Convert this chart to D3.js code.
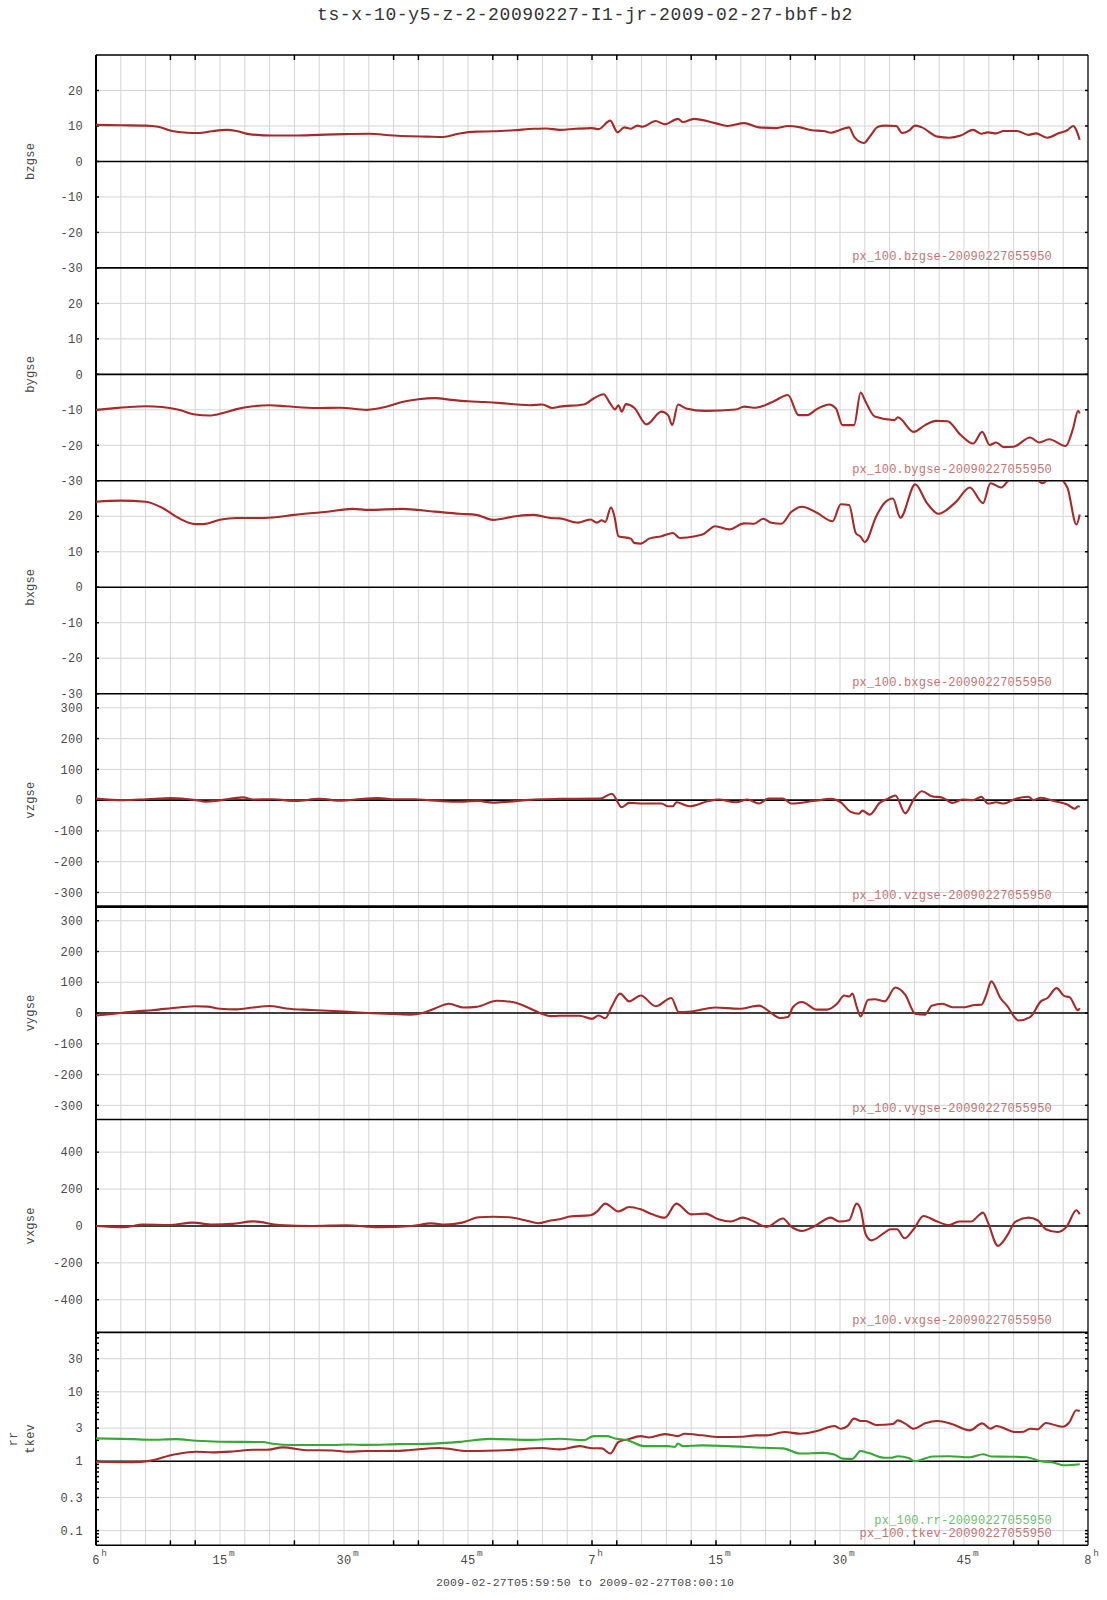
<!DOCTYPE html>
<html><head><meta charset="utf-8">
<script src="https://cdn.jsdelivr.net/npm/d3@7"></script>
<style>
body{margin:0;background:#fff}
svg{display:block}
text{font-family:"Liberation Mono","DejaVu Sans Mono",monospace;fill:#4a4a4a}
</style>
</head><body>
<svg id="c" width="1107" height="1600"></svg>
<script>
// ---------- text ----------
const titleText = "ts-x-10-y5-z-2-20090227-I1-jr-2009-02-27-bbf-b2";
const rangeText = "2009-02-27T05:59:50 to 2009-02-27T08:00:10";
const legendSuffix = "-20090227055950";

// ---------- x axis (minutes after 06:00) ----------
const xTickMinutes = [9, 12, 24, 36, 39, 48, 51, 60, 63, 72, 75, 84, 87, 99, 111, 114];
const xLabelMinutes = [0, 15, 30, 45, 60, 75, 90, 105, 120];
const xLabelNums = ["6", "15", "30", "45", "7", "15", "30", "45", "8"];
const xLabelSups = ["h", "m", "m", "m", "h", "m", "m", "m", "h"];

// ---------- y ticks ----------
const bTicks = [20, 10, 0, -10, -20, -30];
const vTicks = [300, 200, 100, 0, -100, -200, -300];
const vxTicks = [400, 200, 0, -200, -400];
const logTicks = [30, 10, 3, 1, 0.3, 0.1];
const logTickLabels = ["30", "10", "3", "1", "0.3", "0.1"];

// ---------- data ----------
const bzT = [0,3,6,7.5,9.2,11,12.5,14,15.8,17,18.5,21.4,24,27,30,33,36,38,40,42,44,46,48,50.5,53,54.5,56.1,58,60,60.8,62.2,63.1,63.9,64.7,65.5,66.1,67.7,68.8,70.4,71,72.3,74.9,76.4,78.4,80.2,82.3,83.7,85.2,86.6,88,88.9,89.9,91.1,91.7,92.9,93.6,94.6,95.4,96.8,97.5,98.3,99.1,99.9,101.8,103.2,104.6,106.1,107.1,107.9,108.9,109.8,111.4,112.8,113.7,115.1,116.5,117.5,118.2,119];
const bzV = [10.3,10.2,10.1,9.8,8.6,8.1,8.0,8.5,8.9,8.6,7.7,7.3,7.3,7.5,7.7,7.8,7.3,7.1,7.0,6.9,7.9,8.4,8.5,8.8,9.2,9.3,8.9,9.2,9.4,9.1,11.5,8.2,9.6,9.2,10.1,9.8,11.4,10.5,12.0,11.1,12.0,10.8,10.0,10.8,9.6,9.4,10.0,9.6,8.8,8.6,8.1,8.8,9.6,7.0,5.2,7.0,9.8,10.1,10.0,8.0,8.6,10.1,9.6,7.0,6.7,7.3,8.9,7.8,8.2,7.9,8.6,8.6,7.5,7.9,6.7,8.0,8.8,10.0,6.1];

const byT = [0,2,4,6,8,10,12,13.7,15.5,17,19,21,23,26.7,29.5,32.8,35,37,39,41,43,45,47,49,51,52.5,54,55.2,56.1,59,60.2,61.4,62.2,62.8,63.2,63.6,64.1,65.1,66.6,68.4,69.2,69.7,70.4,71.4,73.7,77.4,78.4,79.8,81.9,83.7,85,86,87.2,88.7,89.5,90.3,91.7,92.5,93.1,94.2,96.6,97,98.9,100.3,101.6,103,104.6,106.1,107.2,108.1,108.9,109.8,111,113,114.1,115.3,117.3,118.2,118.8,119];
const byV = [-10,-9.6,-9.2,-9.0,-9.2,-10.0,-11.3,-11.6,-10.8,-9.8,-9.0,-8.7,-9.0,-9.5,-9.4,-10.0,-9.2,-7.8,-7.0,-6.7,-7.2,-7.6,-7.8,-8.1,-8.5,-8.7,-8.5,-9.5,-9.1,-8.5,-6.8,-5.6,-8.2,-9.9,-8.7,-10.5,-8.4,-9.4,-14.1,-10.5,-11.5,-14.3,-8.5,-9.6,-10.3,-9.9,-9.1,-9.4,-7.7,-5.8,-11.5,-11.5,-9.8,-8.5,-9.6,-14.3,-14.3,-5.1,-7.7,-11.9,-12.9,-12.1,-16.2,-14.3,-13.1,-13.2,-17.1,-19.5,-16.2,-19.9,-19.2,-20.5,-20.4,-17.8,-19.2,-18.3,-20.2,-15.2,-10.3,-11.0];

const bxT = [0,3,6,8,10,12,13,15,17,20,22,24,28,31,33,37,41,44,46,48,51,53,55,56.1,58.3,59.8,60.6,61.2,61.6,62.3,62.7,63.2,64.7,65.1,65.9,66.9,68.4,69.8,70.6,72.5,73.5,74.9,76.6,78.4,79.6,80.7,81.7,82.9,84.1,85.4,87.2,89.1,90.1,91.1,91.9,92.5,93,94.4,95.4,96.4,97.3,99.1,100.5,101.9,104,105.7,107.3,108.2,109.5,110.6,112,113.5,114.5,115.3,116.5,117.5,118.6,119];
const bxV = [24.1,24.4,24.1,22.4,19.5,17.8,17.8,19.0,19.5,19.5,19.8,20.4,21.3,22.1,21.8,22.1,21.3,20.7,20.4,19.0,20.1,20.4,19.5,19.4,18.2,19.1,18.2,18.9,18.4,22.5,20.1,14.4,13.7,12.5,12.3,13.7,14.4,15.3,13.9,14.4,15.0,17.2,16.3,18.0,17.9,19.3,18.2,17.9,21.2,22.7,21.0,18.6,23.4,23.2,15.3,14.2,12.7,20.1,23.8,25.0,19.6,29.0,23.8,20.7,24.0,28.1,23.7,29.3,28.1,30.5,31,31,29.3,30.5,30.5,28.1,17.7,20.5];

const vzT = [0,3.3,6.1,9.1,12.1,13.3,14.9,17.8,19,21.4,24.2,27,29.8,31.4,34.2,35.8,38.6,40.2,43.5,46.3,48,50,52,54,56.1,61,62.4,63.6,64.5,66.3,68.4,69.2,69.8,70.2,71.8,74.1,75.3,77.4,78.8,80.2,81.3,83.1,84.1,86.8,88.9,90.1,91.3,92.3,92.7,93.6,94.8,95.8,96.7,97.9,98.9,99.9,101.1,102.4,103.6,104.8,106.1,107.1,107.9,108.9,109.8,111.2,112.8,113.4,114.3,115.9,117.5,118.4,118.8,119];
const vzV = [5,0,3,7,0,-5,-1,9,2,3,-3,4,-2,2,7,3,3,0,-5,-3,-8,-5,0,3,4,5,21,-23,-9,-11,-11,-20,-20,-7,-20,-3,2,-7,2,-11,5,5,-11,-3,4,-7,-38,-44,-34,-47,-9,5,15,-43,2,29,13,8,-9,2,0,11,-11,-7,-11,4,11,0,8,-3,-14,-28,-20,-22];

const vyT = [0,2,4,7,10,12,13.5,15,17,19,21,23,26,30,33,36,38,39.5,41,42.7,44.5,46,48.5,50.5,52.5,54,55,56.1,58.5,60,60.8,61.6,62.4,63.4,64.5,65.9,67.7,69.6,70.5,72,74.9,77.8,80.2,81.7,82.7,83.7,84.3,85.4,87.2,88.4,89.7,90.5,91.1,91.5,92,92.5,93.4,94.2,95.4,96.7,97.9,99.1,100.3,101.1,102.4,103.6,105.1,106.3,107.1,107.7,108.3,109.4,110.2,111.6,113,114.3,115.1,116.2,117.1,117.8,118.8,119];
const vyV = [-8,-3,3,10,18,22,21,14,12,18,23,15,10,5,0,-3,-5,0,15,30,18,20,40,35,15,-3,-10,-9,-9,-19,-8,-17,22,63,38,57,22,49,3,5,18,14,24,0,-16,-13,19,36,11,11,32,57,54,63,22,-11,43,45,38,83,59,-2,-5,24,30,19,19,26,27,59,103,49,24,-24,-13,38,49,81,56,51,9,16];

const vxT = [0,3.3,5.7,8.9,11.7,14.1,16.5,19,22.2,26.2,30.2,34.2,38.2,40.6,42.2,44.3,46.3,48,50,52,53.5,55,56.1,57.3,59.8,60.6,61.6,63.2,64.5,65.9,67.3,68.8,70.2,72,73.7,75.3,76.8,78.2,79.6,81.1,83.1,84.1,85.4,86.8,88.9,89.9,91.1,92,92.5,93.1,93.8,95.4,96.1,96.9,97.8,98.9,100.1,101.6,103.2,104.4,105.9,106.7,107.3,107.9,109.1,110.2,111.2,112.8,113.9,114.9,116.3,117.4,118.6,119];
const vxV = [0,-7,7,5,18,7,11,25,5,0,4,-7,0,14,7,18,47,50,47,30,15,30,36,51,58,78,121,78,103,90,63,45,121,63,67,36,24,45,24,-5,40,-4,-27,-4,45,24,31,121,90,-45,-78,-36,-18,-18,-67,-18,54,27,5,24,24,54,72,18,-108,-54,22,45,31,-18,-33,-5,85,63];

const tkevT = [0,4.4,6.5,9.3,12.1,14.1,16.5,19,20.6,22.6,25.4,28.6,30.2,32.7,36.7,38,41.5,45,50,54,56.1,58.5,59.1,60,61.2,62.2,63.2,64.3,65.9,66.9,68.8,70.4,71.2,73.3,75.3,78.2,79.8,81.1,83.3,85.2,87.2,89.3,90.1,90.9,91.7,92.5,93.1,94.4,96.4,97,97.9,98.9,100.3,101.8,103.6,105.7,107.2,108.2,108.9,111.2,112.2,113,113.9,114.9,116.9,117.7,118.6,119];
const tkevV = [0.98,0.97,1.01,1.24,1.37,1.34,1.38,1.46,1.46,1.58,1.44,1.43,1.37,1.40,1.41,1.45,1.55,1.40,1.45,1.55,1.48,1.65,1.61,1.54,1.53,1.29,1.89,2.06,2.30,2.20,2.46,2.30,2.49,2.36,2.23,2.25,2.36,2.36,2.63,2.49,2.72,3.21,2.94,3.21,4.11,3.80,3.80,3.33,3.44,3.88,3.48,2.94,3.51,3.80,3.40,2.78,3.51,2.94,3.21,2.63,2.66,2.94,2.88,3.55,3.14,3.59,5.42,5.31];

const rrT = [0,4.4,6.5,9.7,12.1,14.9,20.2,21.4,23.8,28.6,30.6,32.7,36.7,40,44,47.6,52.6,56.1,59,60.2,61.8,62.8,64.3,66.3,69.2,70,70.4,71,73.3,76.6,80.7,83.1,85.2,88,89.3,90.3,91.5,92.5,93.4,95.4,96.2,97,98.3,99.1,101.2,103.2,105.7,107.3,108.3,110.6,112.6,114.3,115.9,117.1,119];
const rrV = [2.13,2.08,2.04,2.08,1.97,1.91,1.89,1.78,1.71,1.71,1.74,1.72,1.76,1.78,1.9,2.1,2.03,2.11,2.01,2.30,2.30,2.13,2.01,1.65,1.65,1.60,1.80,1.65,1.69,1.65,1.56,1.53,1.29,1.32,1.25,1.09,1.08,1.40,1.32,1.12,1.12,1.18,1.11,1.0,1.17,1.18,1.14,1.26,1.17,1.16,1.14,1.0,0.95,0.875,0.905];

// ---------- styles ----------
const RED = "#a52a2a", GREEN = "#35a835";
const RED_TXT = "#c27474", GREEN_TXT = "#6cc06c";
const GRID = "#d4d4d4";

const panels = [
  {name:["bzgse"], domain:[-30,30], ticks:bTicks, labels:bTicks.map(String), series:[{t:bzT,v:bzV,c:RED,lc:RED_TXT,leg:"px_100.bzgse"}]},
  {name:["bygse"], domain:[-30,30], ticks:bTicks, labels:bTicks.map(String), series:[{t:byT,v:byV,c:RED,lc:RED_TXT,leg:"px_100.bygse"}]},
  {name:["bxgse"], domain:[-30,30], ticks:bTicks, labels:bTicks.map(String), series:[{t:bxT,v:bxV,c:RED,lc:RED_TXT,leg:"px_100.bxgse"}]},
  {name:["vzgse"], domain:[-346,346], ticks:vTicks, labels:vTicks.map(String), series:[{t:vzT,v:vzV,c:RED,lc:RED_TXT,leg:"px_100.vzgse"}]},
  {name:["vygse"], domain:[-346,346], ticks:vTicks, labels:vTicks.map(String), series:[{t:vyT,v:vyV,c:RED,lc:RED_TXT,leg:"px_100.vygse"}]},
  {name:["vxgse"], domain:[-577,577], ticks:vxTicks, labels:vxTicks.map(String), series:[{t:vxT,v:vxV,c:RED,lc:RED_TXT,leg:"px_100.vxgse"}]},
  {name:["rr","tkev"], log:true, domain:[0.0614,71.8], ticks:logTicks, labels:logTickLabels,
    series:[{t:tkevT,v:tkevV,c:RED,lc:RED_TXT,leg:"px_100.tkev"},{t:rrT,v:rrV,c:GREEN,lc:GREEN_TXT,leg:"px_100.rr"}]}
];

// ---------- layout ----------
const L = 96, R = 1088, TOP = 55, PH = 212.9;
const base = Date.UTC(2009,1,27,6,0,0);
const toDate = m => new Date(base + m*60000);
const x = d3.scaleUtc().domain([toDate(0), toDate(120)]).range([L, R]);
const BOTTOM = TOP + PH*panels.length;

const svg = d3.select("#c");
svg.append("rect").attr("width",1107).attr("height",1600).attr("fill","#fff");

const defs = svg.append("defs");
const gridG = svg.append("g");
const lineG = svg.append("g");
const dataG = svg.append("g");
const txtG = svg.append("g");

// vertical grid every 3 minutes
const vgrid = d3.range(3, 120, 3);
gridG.selectAll("line.v").data(vgrid).join("line")
  .attr("x1", d=>x(toDate(d))).attr("x2", d=>x(toDate(d)))
  .attr("y1", TOP).attr("y2", BOTTOM)
  .attr("stroke", GRID).attr("stroke-width", 1);

panels.forEach((p, i) => {
  const top = TOP + PH*i, bot = top + PH;
  const y = p.log ? d3.scaleLog().domain(p.domain).range([bot, top])
                  : d3.scaleLinear().domain(p.domain).range([bot, top]);
  const zero = p.log ? 1 : 0;

  // horizontal grid
  gridG.selectAll(null).data(p.ticks.filter(v => v !== zero && Math.abs(y(v)-bot) > 1)).join("line")
    .attr("x1", L).attr("x2", R).attr("y1", d=>y(d)).attr("y2", d=>y(d))
    .attr("stroke", GRID).attr("stroke-width", 1);

  // zero line
  lineG.append("line").attr("x1", L).attr("x2", R).attr("y1", y(zero)).attr("y2", y(zero))
    .attr("stroke", "#000").attr("stroke-width", 1.6);
  // panel boundary lines
  lineG.append("line").attr("x1", L).attr("x2", R).attr("y1", top).attr("y2", top)
    .attr("stroke", "#000").attr("stroke-width", i === 4 ? 2.6 : 1.6);

  // inner y ticks on left and right
  let minor = p.ticks;
  if (p.log) {
    minor = [];
    [0.01,0.1,1,10].forEach(dec => d3.range(1,10).forEach(k => { const v = dec*k; if (v >= p.domain[0] && v <= p.domain[1]) minor.push(v); }));
  }
  lineG.selectAll(null).data(minor).join("line")
    .attr("x1", L).attr("x2", L+3).attr("y1", d=>y(d)).attr("y2", d=>y(d))
    .attr("stroke","#000").attr("stroke-width",1.5);
  lineG.selectAll(null).data(minor).join("line")
    .attr("x1", R-3).attr("x2", R).attr("y1", d=>y(d)).attr("y2", d=>y(d))
    .attr("stroke","#000").attr("stroke-width",1.5);

  // tick labels
  txtG.selectAll(null).data(p.ticks).join("text")
    .attr("x", 83).attr("y", d=>y(d)).attr("dy","0.35em")
    .attr("text-anchor","end").attr("font-size",12).attr("letter-spacing","0.3px")
    .text((d,j)=>p.labels[j]);

  // axis name(s)
  const cy = (top+bot)/2;
  const nx = p.name.length === 1 ? [33.5] : [17, 33.5];
  p.name.forEach((n, j) => {
    txtG.append("text").attr("transform", `translate(${nx[j]},${cy}) rotate(-90)`)
      .attr("text-anchor","middle").attr("font-size",12).attr("letter-spacing","0.2px").text(n);
  });

  // clip
  const cid = "clip"+i;
  defs.append("clipPath").attr("id", cid).append("rect")
    .attr("x", L).attr("y", top).attr("width", R-L).attr("height", PH);

  // data lines
  p.series.forEach(s => {
    const pts = s.t.map((t,k)=>[t, s.v[k]]);
    const line = d3.line().x(d=>x(toDate(d[0]))).y(d=>y(d[1])).curve(d3.curveMonotoneX);
    dataG.append("path").attr("d", line(pts)).attr("fill","none")
      .attr("stroke", s.c).attr("stroke-width", 2.1).attr("stroke-linejoin","round")
      .attr("clip-path", `url(#${cid})`);
  });

  // legends (bottom-right, stacked upward)
  p.series.forEach((s, j) => {
    txtG.append("text").attr("x", 1052).attr("y", bot - 8 - j*13)
      .attr("text-anchor","end").attr("font-size",12).attr("letter-spacing","0.2px")
      .style("fill", s.lc).text(s.leg + legendSuffix);
  });
});

// bottom boundary, left axis, right border
lineG.append("line").attr("x1", L).attr("x2", R).attr("y1", BOTTOM).attr("y2", BOTTOM).attr("stroke","#000").attr("stroke-width",1.6);
lineG.append("line").attr("x1", L).attr("x2", L).attr("y1", TOP).attr("y2", BOTTOM).attr("stroke","#000").attr("stroke-width",2);
lineG.append("line").attr("x1", R).attr("x2", R).attr("y1", TOP).attr("y2", BOTTOM).attr("stroke","#000").attr("stroke-width",1.3);

// x tick marks top & bottom
lineG.selectAll(null).data(xTickMinutes).join("line")
  .attr("x1", d=>x(toDate(d))).attr("x2", d=>x(toDate(d))).attr("y1", TOP).attr("y2", TOP+5)
  .attr("stroke","#000").attr("stroke-width",1.5);
lineG.selectAll(null).data(xTickMinutes).join("line")
  .attr("x1", d=>x(toDate(d))).attr("x2", d=>x(toDate(d))).attr("y1", BOTTOM-5).attr("y2", BOTTOM)
  .attr("stroke","#000").attr("stroke-width",1.5);

// x labels with superscripts
xLabelMinutes.forEach((m, j) => {
  const cx = x(toDate(m));
  const num = xLabelNums[j];
  txtG.append("text").attr("x", cx).attr("y", 1564).attr("text-anchor","middle")
    .attr("font-size",12).attr("letter-spacing","0.3px").text(num);
  txtG.append("text").attr("x", cx + num.length*3.75 + 1.5).attr("y", 1556)
    .attr("font-size",9.5).style("fill","#555").text(xLabelSups[j]);
});

// title & range
txtG.append("text").attr("x", 585).attr("y", 20).attr("text-anchor","middle")
  .attr("font-size",18).attr("letter-spacing","0.6px").style("fill","#333").text(titleText);
txtG.append("text").attr("x", 585).attr("y", 1586).attr("text-anchor","middle")
  .attr("font-size",11.5).attr("letter-spacing","0.2px").text(rangeText);
</script>
</body></html>
